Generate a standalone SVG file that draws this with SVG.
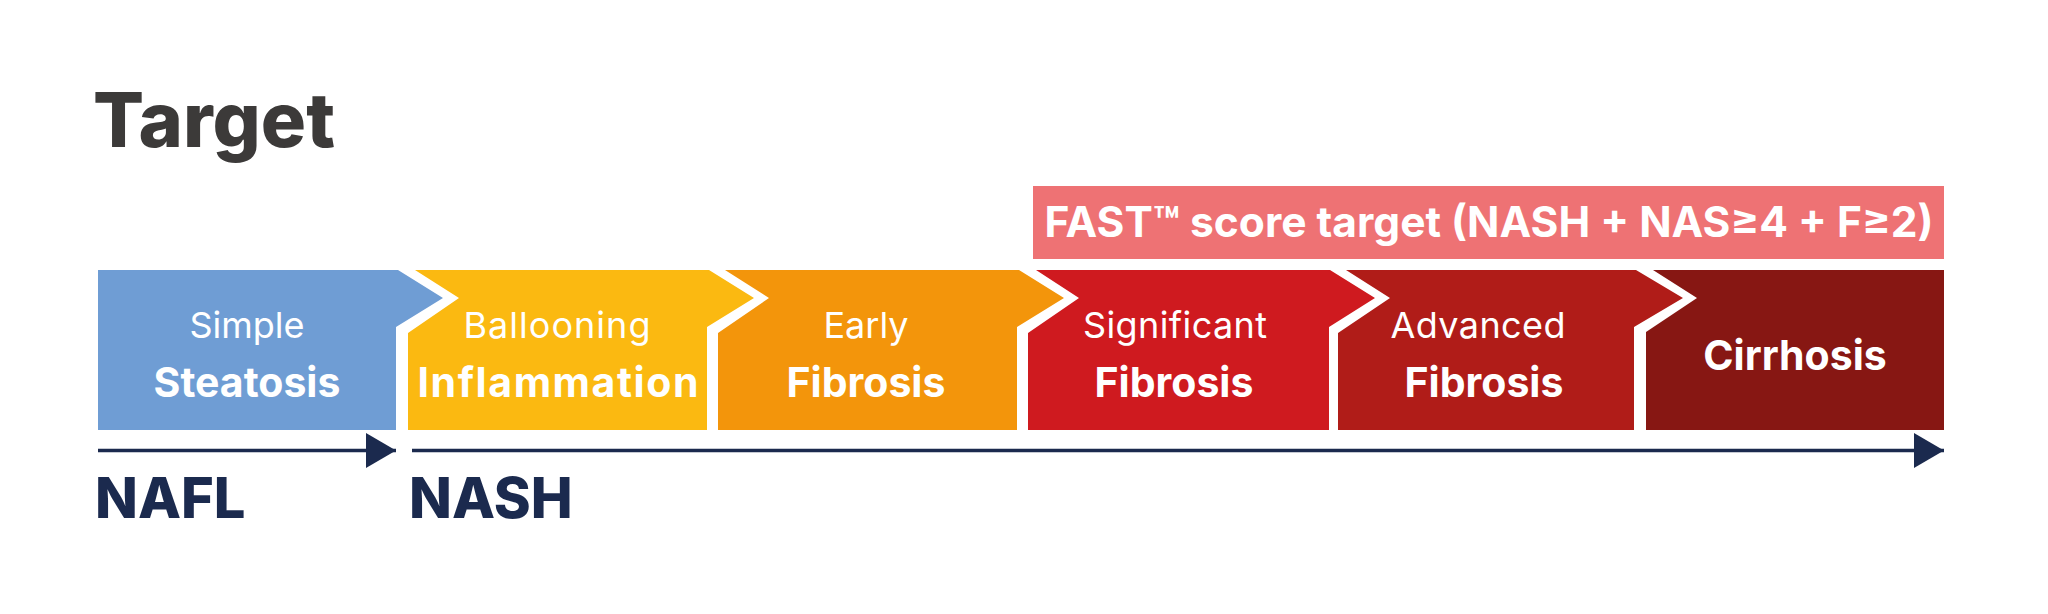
<svg xmlns="http://www.w3.org/2000/svg" width="2048" height="614" viewBox="0 0 2048 614">
<style>
text{font-family:"Inter","Liberation Sans",sans-serif;text-anchor:middle;fill:#fff}
.l{font-size:36px;font-weight:400}
.b{font-size:41px;font-weight:700}
.d{fill:#1b2a4e;text-anchor:start;font-weight:800;font-size:56px}
</style>
<defs><marker id="ah" markerUnits="userSpaceOnUse" markerWidth="30" markerHeight="35" refX="30" refY="17.5" orient="auto"><path d="M0 0L30 17.5L0 35Z" fill="#1b2a4e"/></marker></defs>
<rect width="2048" height="614" fill="#fff"/>
<text id="title" x="93" y="147" style="text-anchor:start;fill:#3c3a39;font-weight:800;font-size:75.5px">Target</text>
<g id="fast"><rect x="1033" y="186" width="911" height="73" fill="#ee7274"/><text x="1489" y="237" style="font-size:42.5px;font-weight:700">FAST™ score target (NASH + NAS≥4 + F≥2)</text></g>
<g id="n1"><path d="M98 270H398L443 298L396 327V430H98Z" fill="#6f9dd4"/><text class="l" x="247" y="338">Simple</text><text class="b" x="247" y="397">Steatosis</text></g>
<g id="n2"><path d="M415 270H709L754 298L707 327V430H408V333L459 298Z" fill="#fbb911"/><text class="l" x="557" y="338" textLength="187">Ballooning</text><text class="b" x="558" y="397" textLength="281">Inflammation</text></g>
<g id="n3"><path d="M725 270H1019L1064 298L1017 327V430H718V333L769 298Z" fill="#f3950b"/><text class="l" x="866" y="338">Early</text><text class="b" x="866" y="397">Fibrosis</text></g>
<g id="n4"><path d="M1036 270H1330L1375 298L1329 327V430H1028V333L1079 298Z" fill="#cf1a1f"/><text class="l" x="1175" y="338" textLength="184">Significant</text><text class="b" x="1174" y="397">Fibrosis</text></g>
<g id="n5"><path d="M1346 270H1636L1683 298L1634 327V430H1338V333L1390 298Z" fill="#b01c18"/><text class="l" x="1478" y="338" textLength="175">Advanced</text><text class="b" x="1484" y="397">Fibrosis</text></g>
<g id="n6"><path d="M1653 270H1944V430H1646V332L1697 298Z" fill="#871713"/><text class="b" x="1795" y="370">Cirrhosis</text></g>
<g id="connectors" stroke="#1b2a4e" stroke-width="3.5" fill="none"><path d="M98 450.5H396" marker-end="url(#ah)"/><path d="M412 450.5H1944" marker-end="url(#ah)"/></g>
<text id="nafl" class="d" x="95" y="518">NAFL</text>
<text id="nash" class="d" x="409" y="518">NASH</text>
</svg>
